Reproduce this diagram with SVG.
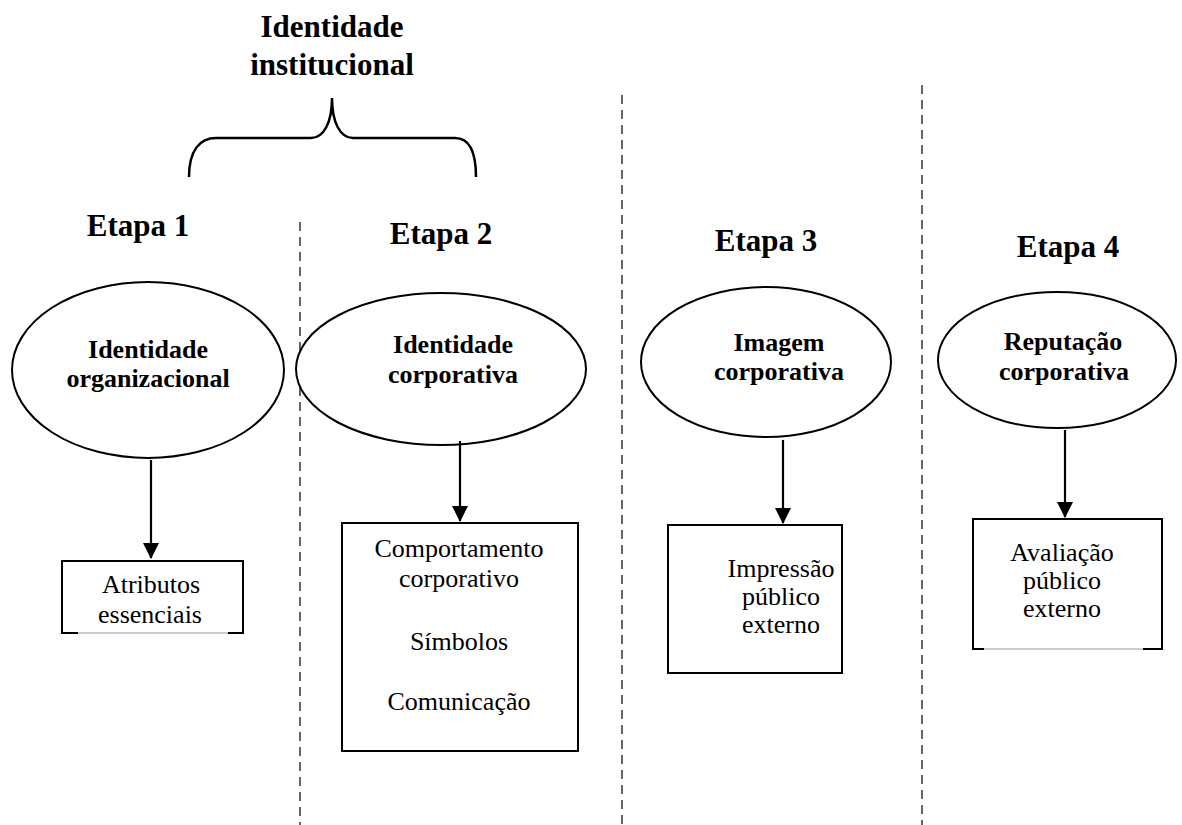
<svg xmlns="http://www.w3.org/2000/svg" width="1182" height="825" viewBox="0 0 1182 825">
<defs>
<marker id="ah" viewBox="0 0 16 16" refX="15" refY="8" markerWidth="16" markerHeight="16" markerUnits="userSpaceOnUse" orient="auto">
<path d="M0,0 L16,8 L0,16 Z" fill="#000"/>
</marker>
<style>
.b{font-family:"Liberation Serif","Times New Roman",serif;font-weight:bold;fill:#000;text-anchor:middle}
.r{font-family:"Liberation Serif","Times New Roman",serif;fill:#000;text-anchor:middle;font-size:26px}
.el{fill:#fff;stroke:#000;stroke-width:2}
.bx{fill:#fff;stroke:#000;stroke-width:2}
.dash{stroke:#000;stroke-width:1.2;stroke-dasharray:9 6;fill:none}
.conn{stroke:#000;stroke-width:2.2;fill:none}
</style>
</defs>
<rect width="1182" height="825" fill="#fff"/>

<g id="title">
<text class="b" x="332" y="37" font-size="31">Identidade</text>
<text class="b" x="332" y="75" font-size="31">institucional</text>
<path d="M189,177 C189,150 200,138 216,138 L311,138 C324,138 332,122 332,98 C332,122 340,138 353,138 L455,138 C468,138 476,150 476,177" fill="none" stroke="#000" stroke-width="2.5"/>
</g>

<g id="dividers">
<line class="dash" x1="300" y1="222" x2="300" y2="825"/>
<line class="dash" x1="622" y1="95" x2="622" y2="825"/>
<line class="dash" x1="922" y1="85" x2="922" y2="825"/>
</g>

<g id="stage-labels">
<text class="b" x="138" y="236" font-size="31">Etapa 1</text>
<text class="b" x="441" y="244" font-size="31">Etapa 2</text>
<text class="b" x="766" y="251" font-size="31">Etapa 3</text>
<text class="b" x="1068" y="257" font-size="31">Etapa 4</text>
</g>

<g id="node-e1">
<ellipse class="el" cx="148" cy="370" rx="136" ry="88"/>
<text class="b" x="148" y="358" font-size="26">Identidade</text>
<text class="b" x="148" y="387" font-size="26">organizacional</text>
</g>
<g id="node-e2">
<ellipse class="el" cx="441" cy="369" rx="145" ry="76"/>
<text class="b" x="453" y="353" font-size="26">Identidade</text>
<text class="b" x="453" y="383" font-size="26">corporativa</text>
</g>
<g id="node-e3">
<ellipse class="el" cx="766" cy="362" rx="125" ry="75"/>
<text class="b" x="779" y="351" font-size="26">Imagem</text>
<text class="b" x="779" y="380" font-size="26">corporativa</text>
</g>
<g id="node-e4">
<ellipse class="el" cx="1057" cy="360" rx="119" ry="68"/>
<text class="b" x="1063" y="350" font-size="26">Reputação</text>
<text class="b" x="1064" y="380" font-size="26">corporativa</text>
</g>

<g id="node-b1">
<path d="M62,633 L62,561 L243,561 L243,633" class="bx"/>
<line x1="62" y1="633" x2="243" y2="633" stroke="#999" stroke-width="1"/>
<line x1="61" y1="633" x2="78" y2="633" stroke="#000" stroke-width="2"/>
<line x1="228" y1="633" x2="244" y2="633" stroke="#000" stroke-width="2"/>
<text class="r" x="151" y="593">Atributos</text>
<text class="r" x="150" y="623">essenciais</text>
</g>
<g id="node-b2">
<rect class="bx" x="342" y="523" width="236" height="228"/>
<text class="r" x="459" y="557">Comportamento</text>
<text class="r" x="459" y="587">corporativo</text>
<text class="r" x="459" y="650">Símbolos</text>
<text class="r" x="459" y="710">Comunicação</text>
</g>
<g id="node-b3">
<rect class="bx" x="668" y="525" width="174" height="148"/>
<text class="r" x="781" y="577">Impressão</text>
<text class="r" x="781" y="605">público</text>
<text class="r" x="781" y="633">externo</text>
</g>
<g id="node-b4">
<path d="M973,649 L973,519 L1162,519 L1162,649" class="bx"/>
<line x1="973" y1="649" x2="1162" y2="649" stroke="#999" stroke-width="1"/>
<line x1="972" y1="649" x2="984" y2="649" stroke="#000" stroke-width="2"/>
<line x1="1143" y1="649" x2="1163" y2="649" stroke="#000" stroke-width="2"/>
<text class="r" x="1062" y="561">Avaliação</text>
<text class="r" x="1062" y="589">público</text>
<text class="r" x="1062" y="617">externo</text>
</g>

<g id="connectors">
<line class="conn" x1="151" y1="460" x2="151" y2="558" marker-end="url(#ah)"/>
<line class="conn" x1="460" y1="441" x2="460" y2="521" marker-end="url(#ah)"/>
<line class="conn" x1="783" y1="440" x2="783" y2="523" marker-end="url(#ah)"/>
<line class="conn" x1="1065" y1="430" x2="1065" y2="517" marker-end="url(#ah)"/>
</g>
</svg>
